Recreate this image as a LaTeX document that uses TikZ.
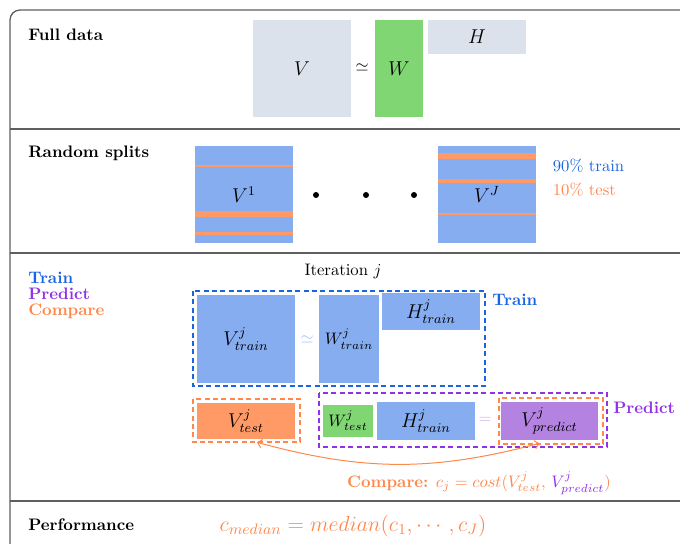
\RequirePackage{fix-cm}
\documentclass[tikz,border=0pt]{standalone}
\usepackage{amsmath}
\usepackage{tikz}
\usetikzlibrary{arrows.meta, positioning, calc}
\definecolor{framegray}{RGB}{95,95,95}
\definecolor{matgray}{RGB}{220,226,235}
\definecolor{wgreen}{RGB}{128,214,115}
\definecolor{splitblue}{RGB}{134,173,240}
\definecolor{splitorange}{RGB}{255,153,102}
\definecolor{vpurple}{RGB}{180,130,225}
\definecolor{trainblue}{RGB}{25,100,225}
\definecolor{predpurple}{RGB}{145,50,230}
\definecolor{cmporange}{RGB}{255,135,75}
\definecolor{simblue}{RGB}{165,192,240}
\definecolor{eqpurple}{RGB}{205,175,238}
\newlength\px
\setlength\px{0.6pt}
\tikzset{
  mbox/.style 2 args={rectangle, inner sep=0pt, font=\large,
    minimum width=#1\px, minimum height=#2\px},
  section/.style={anchor=base west, font=\bfseries, inner sep=0pt},
  sepline/.style={framegray, line width=0.8pt},
  dashbox/.style={dashed, line width=1.3pt, dash pattern=on 3pt off 2pt},
  stripe/.style={fill=splitorange},
  cmparrow/.style={{Straight Barb[length=2.5pt]}-{Straight Barb[length=2.5pt]},
    cmporange, line width=0.6pt}
}

\begin{document}
\begin{tikzpicture}[x=0.6pt, y=-0.6pt]
  \clip (0,0) rectangle (680,544);
  % frame and row separators
  \draw[sepline, rounded corners=6pt] (10,10) rectangle (700,560);
  \draw[sepline] (10,129) -- (680,129);
  \draw[sepline] (10,253) -- (680,253);
  \draw[sepline] (10,501) -- (680,501);
  \node[section] (full) at (28,41) {Full data};
  \node[section] (splits) at (28,158) {Random splits};
  \node[section] (perf) at (28,531) {Performance};

  % full data: V ~ W H
  \node[mbox={98}{97}, fill=matgray] (V) at (302,68.5) {$V$};
  \node (sim) at (362,68) {$\simeq$};
  \node[mbox={48}{97}, fill=wgreen] (W) at (399,68.5) {$W$};
  \node[mbox={98}{34}, fill=matgray] (H) at (477,37) {$H$};

  % random splits
  \node[mbox={98}{97}, fill=splitblue] (V1) at (244,194.5) {$V^1$};
  \fill[stripe] (195,165) rectangle (293,167.5);
  \fill[stripe] (195,211.5) rectangle (293,217.5);
  \fill[stripe] (195,232.5) rectangle (293,235);
  \foreach \x/\name in {316/d1, 366/d2, 414/d3}
    \node[circle, fill=black, inner sep=0pt, minimum size=6\px] (\name) at (\x,195) {};
  \node[mbox={98}{97}, fill=splitblue] (VJ) at (487,194.5) {$V^J$};
  \fill[stripe] (438,153) rectangle (536,159);
  \fill[stripe] (438,179) rectangle (536,183);
  \fill[stripe] (438,213.5) rectangle (536,215.5);
  \node[anchor=west, trainblue] (ptrain) at (547,166) {90\% train};
  \node[anchor=west, cmporange] (ptest) at (547,190) {10\% test};

  % one iteration
  \node[section, trainblue] (ltrain) at (28,284) {Train};
  \node[section, predpurple] (lpred) at (28,300) {Predict};
  \node[section, cmporange] (lcmp) at (28,316) {Compare};
  \node (iter) at (343,271) {Iteration $j$};

  \node[mbox={98}{88}, fill=splitblue] (Vtr) at (246,339) {$V^j_{train}$};
  \node[simblue] (sim2) at (307,340) {$\simeq$};
  \node[mbox={60}{88}, fill=splitblue, font=\normalsize] (Wtr) at (349,339) {$W^j_{train}$};
  \node[mbox={98}{37}, fill=splitblue] (Htr) at (431,311.5) {$H^j_{train}$};
  \draw[dashbox, trainblue] (193,291) rectangle (485,386);
  \node[anchor=west, font=\bfseries, trainblue] (ttrain) at (486.5,300) {Train};

  \node[mbox={98}{36}, fill=splitorange] (Vte) at (246,421) {$V^j_{test}$};
  \draw[dashbox, cmporange] (193,399) rectangle (300,442);

  \node[mbox={50}{32}, fill=wgreen, font=\normalsize] (Wte) at (348,421) {$W^j_{test}$};
  \node[mbox={98}{38}, fill=splitblue] (Htr2) at (426,421) {$H^j_{train}$};
  \node[eqpurple] (eq) at (485,420) {$=$};
  \node[mbox={97}{38}, fill=vpurple] (Vpr) at (549.5,421) {$V^j_{predict}$};
  \draw[dashbox, predpurple] (319,393) rectangle (607,447);
  \draw[dashbox, cmporange] (499,398) rectangle (603,444);
  \node[anchor=west, font=\bfseries, predpurple] (tpred) at (607.5,408) {Predict};

  % compare predicted and held-out entries
  \draw[cmparrow] ([xshift=-10\px, yshift=-3\px]Vpr.south) to[bend left=15]
    ([xshift=11\px, yshift=-3\px]Vte.south);
  \node[cmporange] (cost) at (479,483)
    {\textbf{Compare:} $c_j = cost(V^j_{test},\, {\color{predpurple}V^j_{predict}})$};

  % performance
  \node[cmporange, font=\fontsize{13}{15}\selectfont] (median) at (353,526)
    {$c_{median} = median(c_1, \cdots, c_J)$};
\end{tikzpicture}
\end{document}
